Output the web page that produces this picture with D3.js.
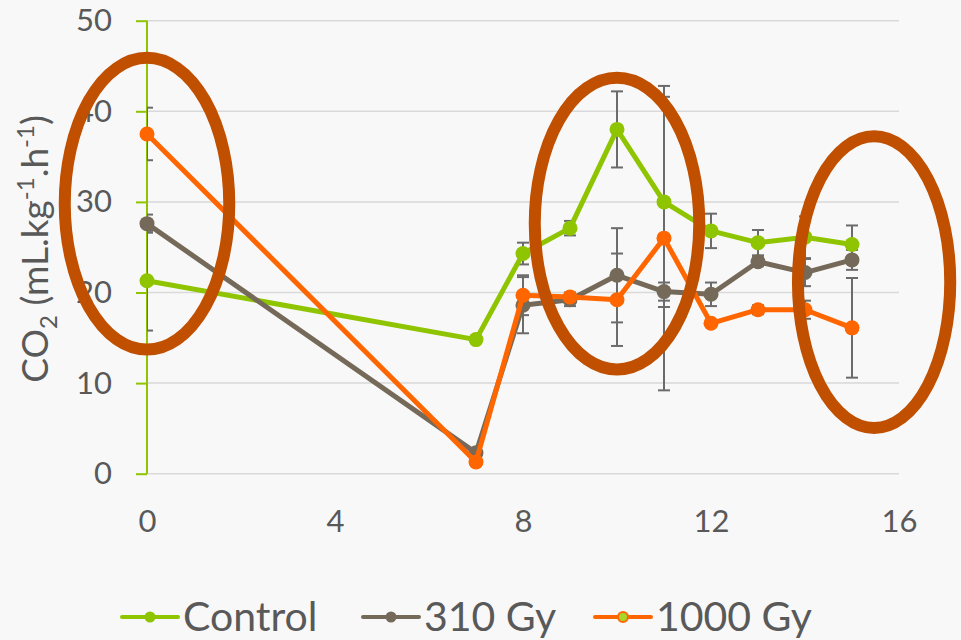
<!DOCTYPE html>
<html>
<head>
<meta charset="utf-8">
<script src="https://cdn.jsdelivr.net/npm/d3@7"></script>
<style>
  body { margin: 0; background: #f8f8f8; }
  svg  { display: block; font-family: Lato, "Open Sans", sans-serif; }
</style>
</head>
<body>
<div id="chart"></div>
<script>
// CO2 production vs time for three irradiation doses, with the three
// highlighted zones circled as on the slide.

const days       = [0, 7, 8, 9, 10, 11, 12, 13, 14, 15];
const control    = [21.3, 14.8, 24.3, 27.1, 38.0, 30.0, 26.8, 25.5, 26.1, 25.3];
const gy310      = [27.6, 2.3, 18.6, 19.2, 21.9, 20.1, 19.8, 23.4, 22.2, 23.6];
const gy1000     = [37.5, 1.3, 19.7, 19.5, 19.2, 26.0, 16.6, 18.1, 18.1, 16.1];
const controlErr = [5.5, 0, 1.2, 0.8, 4.2, 11.6, 1.9, 1.4, 2.3, 2.1];
const gy310Err   = [1.0, 0, 3.1, 0.7, 5.2, 1.0, 1.3, 0.5, 1.5, 1.1];
const gy1000Err  = [2.9, 0, 2.2, 0.5, 5.1, 16.8, 0.3, 0.5, 1.0, 5.5];

const seriesNames = ['Control', '310 Gy', '1000 Gy'];
const xTicks      = [0, 4, 8, 12, 16];
const yTicks      = [0, 10, 20, 30, 40, 50];

// circled zones (center day, center value, half width in days, half height in value)
const zoneDays   = [0, 10, 15.47];
const zoneValues = [29.8, 27.6, 21.15];
const zoneRx     = [1.75, 1.75, 1.62];
const zoneRy     = [16.1, 16.1, 16.1];


function drawChart(containerId)
{
  const width = 961, height = 640;
  const colors = ['#8fc400', '#756a59', '#ff6600'];
  const textColor = '#595959';

  const svg = d3.select('#' + containerId)
                .append('svg')
                .attr('width', width)
                .attr('height', height);

  const x = d3.scaleLinear().domain([0, 16]).range([147, 899]);
  const y = d3.scaleLinear().domain([0, 50]).range([473.7, 20.7]);

  // --- Gridlines ---
  svg.append('g')
     .selectAll('line')
     .data(yTicks)
     .enter()
     .append('line')
     .attr('x1', x(0)).attr('x2', x(16))
     .attr('y1', d => y(d)).attr('y2', d => y(d))
     .attr('stroke', '#d9d9d9')
     .attr('stroke-width', 1.5);

  // --- Y axis (green line, ticks outside) ---
  const yAxis = svg.append('g')
     .attr('transform', 'translate(' + x(0) + ',0)')
     .call(d3.axisLeft(y).tickValues(yTicks).tickSize(11).tickPadding(24));
  yAxis.selectAll('.domain, .tick line')
       .attr('stroke', '#8fc400')
       .attr('stroke-width', 2);
  yAxis.select('.domain').attr('d', 'M0,' + y(50) + 'V' + y(0));
  yAxis.selectAll('.tick text')
       .attr('fill', textColor)
       .style('font-size', '31px')
       .style('font-family', 'Lato, sans-serif');

  // --- X axis (labels only) ---
  const xAxis = svg.append('g')
     .attr('transform', 'translate(0,' + y(0) + ')')
     .call(d3.axisBottom(x).tickValues(xTicks).tickSize(0).tickPadding(36));
  xAxis.select('.domain').remove();
  xAxis.selectAll('.tick text')
       .attr('fill', textColor)
       .style('font-size', '31px')
       .style('font-family', 'Lato, sans-serif');

  // --- Y title with sub/superscripts ---
  const title = svg.append('text')
     .attr('transform', 'translate(48,249) rotate(-90)')
     .attr('text-anchor', 'middle')
     .attr('fill', textColor)
     .style('font-size', '37px');
  title.append('tspan').text('CO');
  title.append('tspan').attr('dy', 9).style('font-size', '24px').text('2');
  title.append('tspan').attr('dy', -9).text(' (mL.kg');
  title.append('tspan').attr('dy', -14).style('font-size', '24px').text('-1');
  title.append('tspan').attr('dy', 14).text('.h');
  title.append('tspan').attr('dy', -14).style('font-size', '24px').text('-1');
  title.append('tspan').attr('dy', 14).text(')');

  // --- Data ---
  const values = [control, gy310, gy1000];
  const errors = [controlErr, gy310Err, gy1000Err];
  const series = values.map((vals, s) =>
                   days.map((d, i) => ({ day: d, value: vals[i], err: errors[s][i] })));

  svg.append('clipPath').attr('id', 'plotClip')
     .append('rect')
     .attr('x', x(0)).attr('y', 0)
     .attr('width', x(16) - x(0) + 20).attr('height', height);

  // Error bars, below lines
  const errG = svg.append('g').attr('clip-path', 'url(#plotClip)');
  series.forEach(pts => {
    const bars = errG.selectAll(null)
                     .data(pts.filter(p => p.err > 0))
                     .enter()
                     .append('g')
                     .attr('stroke', '#6b6b6b')
                     .attr('stroke-width', 2);
    bars.append('line')
        .attr('x1', p => x(p.day)).attr('x2', p => x(p.day))
        .attr('y1', p => y(p.value - p.err)).attr('y2', p => y(p.value + p.err));
    [-1, 1].forEach(sign => {
      bars.append('line')
          .attr('x1', p => x(p.day) - 6).attr('x2', p => x(p.day) + 6)
          .attr('y1', p => y(p.value + sign * p.err)).attr('y2', p => y(p.value + sign * p.err));
    });
  });

  const line = d3.line().x(p => x(p.day)).y(p => y(p.value));

  series.forEach((pts, s) => {
    svg.append('path')
       .datum(pts)
       .attr('d', line)
       .attr('fill', 'none')
       .attr('stroke', colors[s])
       .attr('stroke-width', 5)
       .attr('stroke-linejoin', 'round');
    svg.selectAll(null)
       .data(pts)
       .enter()
       .append('circle')
       .attr('cx', p => x(p.day))
       .attr('cy', p => y(p.value))
       .attr('r', 7.5)
       .attr('fill', colors[s]);
  });

  // --- Circled zones ---
  svg.selectAll('ellipse')
     .data(zoneDays.map((d, i) => ({ day: d, value: zoneValues[i], rx: zoneRx[i], ry: zoneRy[i] })))
     .enter()
     .append('ellipse')
     .attr('cx', z => x(z.day))
     .attr('cy', z => y(z.value))
     .attr('rx', z => x(z.rx) - x(0))
     .attr('ry', z => y(0) - y(z.ry))
     .attr('fill', 'none')
     .attr('stroke', '#c04f00')
     .attr('stroke-width', 12);

  // --- Legend ---
  const legendX = [122, 363, 595];                                 // left end of each legend sample
  const legendY = 617;
  const leg = svg.append('g')
     .selectAll('g')
     .data(seriesNames)
     .enter()
     .append('g')
     .attr('transform', (d, i) => 'translate(' + legendX[i] + ',' + legendY + ')');
  leg.append('line')
     .attr('x1', 0).attr('x2', 56)
     .attr('stroke', (d, i) => colors[i])
     .attr('stroke-width', 4)
     .attr('stroke-linecap', 'round');
  leg.append('circle')
     .attr('cx', 28)
     .attr('r', (d, i) => i === 2 ? 5 : 5.5)
     .attr('fill', (d, i) => i === 2 ? '#a6d62a' : colors[i])
     .attr('stroke', (d, i) => i === 2 ? colors[2] : 'none')
     .attr('stroke-width', 2);
  leg.append('text')
     .attr('x', 61)
     .attr('y', 14)
     .attr('fill', textColor)
     .style('font-size', '41px')
     .text(d => d);
}

drawChart('chart');
</script>
</body>
</html>
